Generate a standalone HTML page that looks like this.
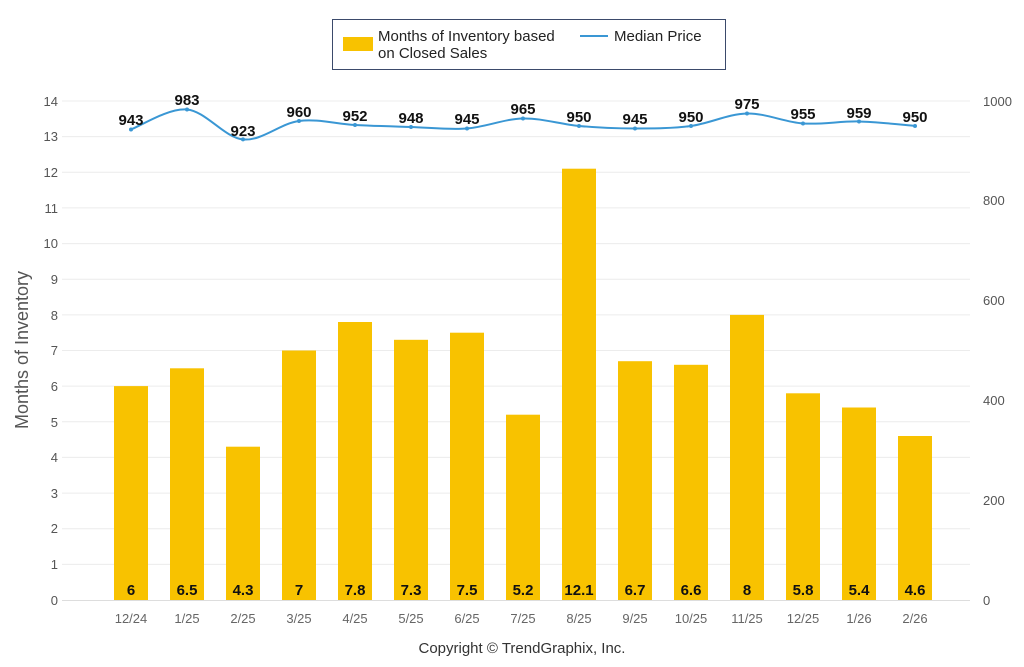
<!DOCTYPE html>
<html><head><meta charset="utf-8"><style>
body{margin:0;background:#fff;width:1024px;height:662px;overflow:hidden}
svg{font-family:"Liberation Sans",sans-serif}
.g{stroke:#ececec;stroke-width:1}
.ax{fill:#555;font-size:13px}
.bl{font-weight:bold;font-size:15px;fill:#111;text-anchor:middle}
.xl{fill:#666;font-size:13px;text-anchor:middle}
</style></head><body>
<svg width="1024" height="662" viewBox="0 0 1024 662">
<g>
<line class="g" x1="62" x2="970" y1="101" y2="101"/><line class="g" x1="62" x2="970" y1="136.6" y2="136.6"/>
<line class="g" x1="62" x2="970" y1="172.3" y2="172.3"/><line class="g" x1="62" x2="970" y1="207.9" y2="207.9"/>
<line class="g" x1="62" x2="970" y1="243.6" y2="243.6"/><line class="g" x1="62" x2="970" y1="279.2" y2="279.2"/>
<line class="g" x1="62" x2="970" y1="314.9" y2="314.9"/><line class="g" x1="62" x2="970" y1="350.5" y2="350.5"/>
<line class="g" x1="62" x2="970" y1="386.1" y2="386.1"/><line class="g" x1="62" x2="970" y1="421.8" y2="421.8"/>
<line class="g" x1="62" x2="970" y1="457.4" y2="457.4"/><line class="g" x1="62" x2="970" y1="493.1" y2="493.1"/>
<line class="g" x1="62" x2="970" y1="528.7" y2="528.7"/><line class="g" x1="62" x2="970" y1="564.4" y2="564.4"/>
<line x1="62" x2="970" y1="600.5" y2="600.5" stroke="#ddd"/>
</g>
<g class="ax" text-anchor="end">
<text x="58" y="106">14</text><text x="58" y="141">13</text><text x="58" y="177">12</text><text x="58" y="213">11</text>
<text x="58" y="248">10</text><text x="58" y="284">9</text><text x="58" y="320">8</text><text x="58" y="355">7</text>
<text x="58" y="391">6</text><text x="58" y="427">5</text><text x="58" y="462">4</text><text x="58" y="498">3</text>
<text x="58" y="533">2</text><text x="58" y="569">1</text><text x="58" y="605">0</text>
</g>
<g class="ax">
<text x="983" y="106">1000</text><text x="983" y="205">800</text><text x="983" y="305">600</text>
<text x="983" y="405">400</text><text x="983" y="505">200</text><text x="983" y="605">0</text>
</g>
<text transform="translate(28,350) rotate(-90)" text-anchor="middle" font-size="18" fill="#555">Months of Inventory</text>
<g fill="#f8c200">
<rect x="114" y="386.1" width="34" height="213.9"/><rect x="170" y="368.3" width="34" height="231.7"/>
<rect x="226" y="446.7" width="34" height="153.3"/><rect x="282" y="350.5" width="34" height="249.5"/>
<rect x="338" y="322" width="34" height="278"/><rect x="394" y="339.8" width="34" height="260.2"/>
<rect x="450" y="332.7" width="34" height="267.3"/><rect x="506" y="414.7" width="34" height="185.3"/>
<rect x="562" y="168.7" width="34" height="431.3"/><rect x="618" y="361.2" width="34" height="238.8"/>
<rect x="674" y="364.8" width="34" height="235.2"/><rect x="730" y="314.9" width="34" height="285.1"/>
<rect x="786" y="393.3" width="34" height="206.7"/><rect x="842" y="407.5" width="34" height="192.5"/>
<rect x="898" y="436" width="34" height="164"/>
</g>
<g class="bl">
<text x="131" y="595">6</text><text x="187" y="595">6.5</text><text x="243" y="595">4.3</text><text x="299" y="595">7</text>
<text x="355" y="595">7.8</text><text x="411" y="595">7.3</text><text x="467" y="595">7.5</text><text x="523" y="595">5.2</text>
<text x="579" y="595">12.1</text><text x="635" y="595">6.7</text><text x="691" y="595">6.6</text><text x="747" y="595">8</text>
<text x="803" y="595">5.8</text><text x="859" y="595">5.4</text><text x="915" y="595">4.6</text>
</g>
<g class="xl">
<text x="131" y="623">12/24</text><text x="187" y="623">1/25</text><text x="243" y="623">2/25</text><text x="299" y="623">3/25</text>
<text x="355" y="623">4/25</text><text x="411" y="623">5/25</text><text x="467" y="623">6/25</text><text x="523" y="623">7/25</text>
<text x="579" y="623">8/25</text><text x="635" y="623">9/25</text><text x="691" y="623">10/25</text><text x="747" y="623">11/25</text>
<text x="803" y="623">12/25</text><text x="859" y="623">1/26</text><text x="915" y="623">2/26</text>
</g>
<path id="ln" fill="none" stroke="#3a97d4" stroke-width="2" d=""/>
<g id="dots" fill="#3a97d4"></g>
<g class="bl">
<text x="131" y="125">943</text><text x="187" y="105">983</text><text x="243" y="136">923</text><text x="299" y="117">960</text>
<text x="355" y="121">952</text><text x="411" y="123">948</text><text x="467" y="124">945</text><text x="523" y="114">965</text>
<text x="579" y="122">950</text><text x="635" y="124">945</text><text x="691" y="122">950</text><text x="747" y="109">975</text>
<text x="803" y="119">955</text><text x="859" y="118">959</text><text x="915" y="122">950</text>
</g>
<rect x="332.5" y="19.5" width="393" height="50" fill="#fff" stroke="#3b4a6b"/>
<rect x="343" y="37" width="30" height="14" fill="#f8c200"/>
<text x="378" y="41" font-size="15" fill="#222">Months of Inventory based</text>
<text x="378" y="58" font-size="15" fill="#222">on Closed Sales</text>
<line x1="580" x2="608" y1="36" y2="36" stroke="#3a97d4" stroke-width="2"/>
<text x="614" y="41" font-size="15" fill="#222">Median Price</text>
<text x="522" y="653" text-anchor="middle" font-size="15" fill="#333">Copyright © TrendGraphix, Inc.</text>
</svg>
<script>
var v=[943,983,923,960,952,948,945,965,950,945,950,975,955,959,950];
var p=v.map(function(a,i){return [131+56*i,600-a*0.499]});
var d="M"+p[0][0]+","+p[0][1];
for(var i=0;i<p.length-1;i++){var a=p[i>0?i-1:0],b=p[i],c=p[i+1],e=p[i+2<p.length?i+2:i+1];
d+=" C"+(b[0]+(c[0]-a[0])/6)+","+(b[1]+(c[1]-a[1])/6)+" "+(c[0]-(e[0]-b[0])/6)+","+(c[1]-(e[1]-b[1])/6)+" "+c[0]+","+c[1];}
document.getElementById("ln").setAttribute("d",d);
var g=document.getElementById("dots");
p.forEach(function(q){var c=document.createElementNS("http://www.w3.org/2000/svg","circle");c.setAttribute("cx",q[0]);c.setAttribute("cy",q[1]);c.setAttribute("r",2);g.appendChild(c);});
</script>
</body></html>
